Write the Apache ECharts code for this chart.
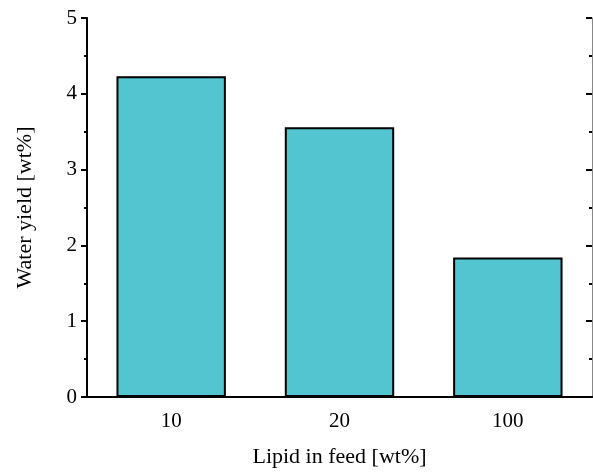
<!DOCTYPE html>
<html>
<head>
<meta charset="utf-8">
<script src="https://cdn.jsdelivr.net/npm/echarts@6/dist/echarts.min.js"></script>
<style>
  html, body { margin: 0; padding: 0; background: #fff; }
  #main { width: 593px; height: 473px; }
</style>
</head>
<body>
<div id="main"></div>
<script>
// data
const categories = ['10', '20', '100'];
const waterYield = [4.23, 3.56, 1.84];

const font = 'Liberation Serif';
const chart = echarts.init(document.getElementById('main'));

chart.setOption({
  animation: false,
  grid: { left: 87, right: 1, top: 18, bottom: 74 },
  xAxis: [
    {
      type: 'category',
      data: categories,
      name: 'Lipid in feed [wt%]',
      nameLocation: 'middle',
      nameGap: 49,
      nameTextStyle: { fontFamily: font, fontSize: 22, color: '#000' },
      axisLine: { lineStyle: { color: '#000', width: 2 } },
      axisTick: { alignWithLabel: true, length: 6, lineStyle: { color: '#000', width: 2 } },
      axisLabel: { fontFamily: font, fontSize: 21, color: '#000', margin: 14 }
    },
    {
      type: 'category',
      data: categories,
      position: 'top',
      axisLine: { lineStyle: { color: '#000', width: 2 } },
      axisTick: { show: false },
      axisLabel: { show: false }
    }
  ],
  yAxis: [
    {
      type: 'value',
      min: 0, max: 5, interval: 1,
      name: 'Water yield [wt%]',
      nameLocation: 'middle',
      nameGap: 51,
      nameTextStyle: { fontFamily: font, fontSize: 22, color: '#000' },
      axisLine: { show: true, lineStyle: { color: '#000', width: 2 } },
      axisTick: { show: true, length: 6, lineStyle: { color: '#000', width: 2 } },
      minorTick: { show: true, splitNumber: 2, length: 3, lineStyle: { color: '#000', width: 2 } },
      splitLine: { show: false },
      axisLabel: { fontFamily: font, fontSize: 21, color: '#000', margin: 10 }
    },
    {
      type: 'value',
      min: 0, max: 5, interval: 1,
      position: 'right',
      axisLine: { show: true, lineStyle: { color: '#888', width: 1 } },
      axisTick: { show: true, inside: true, length: 6, lineStyle: { color: '#000', width: 2 } },
      minorTick: { show: true, splitNumber: 2, length: 3, lineStyle: { color: '#000', width: 2 } },
      splitLine: { show: false },
      axisLabel: { show: false }
    }
  ],
  series: [
    {
      type: 'bar',
      data: waterYield,
      barWidth: '65%',
      itemStyle: { color: '#52C5D0', borderColor: '#000', borderWidth: 2 }
    }
  ]
});
</script>
</body>
</html>
